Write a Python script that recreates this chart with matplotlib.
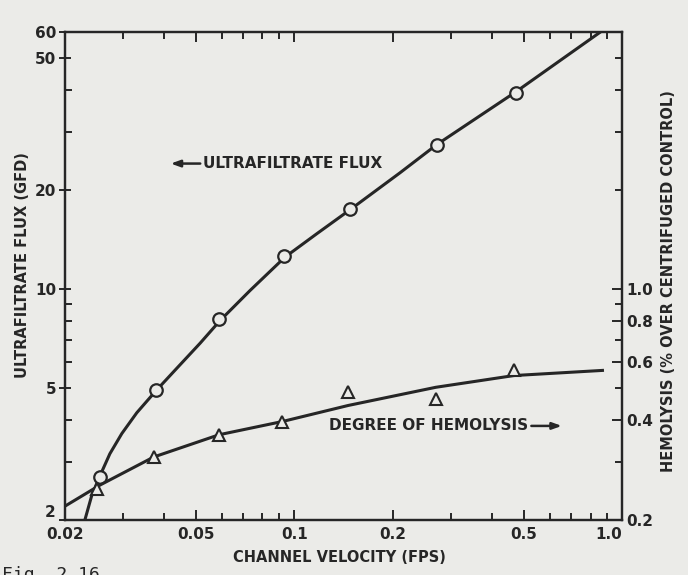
import matplotlib.pyplot as plt
from matplotlib.ticker import FixedLocator, NullFormatter

# --- values ---
# ultrafiltrate flux (GFD), left axis
flux_v = [0.0256, 0.038, 0.059, 0.093, 0.148, 0.272, 0.474]
flux = [2.70, 4.93, 8.09, 12.6, 17.5, 27.4, 39.2]
# hand-drawn smooth curve through the flux points
flux_curve_v = [0.0230, 0.0241, 0.0254, 0.0274, 0.0298, 0.0331, 0.0378, 0.0438,
                0.0516, 0.0594, 0.0733, 0.0937, 0.117, 0.148, 0.210, 0.272,
                0.474, 0.856]
flux_curve = [2.0, 2.36, 2.68, 3.17, 3.65, 4.22, 4.91, 5.75,
              6.85, 8.03, 9.90, 12.5, 14.7, 17.4, 22.5, 27.4,
              39.6, 60.0]

# degree of hemolysis (% over centrifuged control), right axis
hem_v = [0.0251, 0.0373, 0.059, 0.092, 0.146, 0.27, 0.467]
hem = [0.248, 0.31, 0.362, 0.397, 0.489, 0.464, 0.57]
hem_curve_v = [0.02, 0.0256, 0.0373, 0.059, 0.092, 0.146, 0.27, 0.467, 0.87]
hem_curve = [0.22, 0.255, 0.31, 0.362, 0.397, 0.444, 0.504, 0.547, 0.567]

x_ticks = [0.02, 0.05, 0.1, 0.2, 0.5, 1.0]
x_labels = ['0.02', '0.05', '0.1', '0.2', '0.5', '1.0']
x_minor = [0.03, 0.04, 0.06, 0.07, 0.08, 0.09, 0.3, 0.4, 0.6, 0.7, 0.8, 0.9]
yl_ticks = [2, 5, 10, 20, 50, 60]
yl_minor = [3, 4, 6, 7, 8, 9, 30, 40]
yr_ticks = [0.2, 0.4, 0.6, 0.8, 1.0]
yr_minor = [0.3, 0.5, 0.7, 0.9, 2, 3, 4, 5]

ink = '#262626'
paper = '#ebebe8'
plt.rcParams['font.family'] = 'DejaVu Sans'

fig = plt.figure(figsize=(6.88, 5.75), dpi=100, facecolor=paper)
ax = fig.add_axes([0.0945, 0.096, 0.81, 0.848])
ax.set_facecolor(paper)
ax.set_xscale('log')
ax.set_yscale('log')
ax.set_xlim(0.02, 1.0)
ax.set_ylim(2, 60)

ax2 = ax.twinx()
ax2.set_yscale('log')
ax2.set_ylim(0.2, 6)

# flux curve and open circles
ax.plot(flux_curve_v, flux_curve, color=ink, lw=2.2, solid_joinstyle='round')
ax.plot(flux_v, flux, 'o', ms=9, mfc=paper, mec=ink, mew=1.6)

# hemolysis curve and open triangles
ax2.plot(hem_curve_v, hem_curve, color=ink, lw=2.2, solid_joinstyle='round')
ax2.plot(hem_v, hem, '^', ms=8.5, mfc=paper, mec=ink, mew=1.5)

# ticks
ax.xaxis.set_major_locator(FixedLocator(x_ticks))
ax.set_xticklabels(x_labels)
ax.xaxis.set_minor_locator(FixedLocator(x_minor))
ax.xaxis.set_minor_formatter(NullFormatter())
ax.xaxis.get_ticklabels()[-1].set_horizontalalignment('right')

ax.yaxis.set_major_locator(FixedLocator(yl_ticks))
ax.set_yticklabels([str(t) for t in yl_ticks])
ax.yaxis.set_minor_locator(FixedLocator(yl_minor))
ax.yaxis.set_minor_formatter(NullFormatter())
ax.yaxis.get_ticklabels()[0].set_verticalalignment('bottom')

ax2.yaxis.set_major_locator(FixedLocator(yr_ticks))
ax2.set_yticklabels(['0.2', '0.4', '0.6', '0.8', '1.0'])
ax2.yaxis.set_minor_locator(FixedLocator(yr_minor))
ax2.yaxis.set_minor_formatter(NullFormatter())

lab = dict(labelsize=11, labelcolor=ink, color=ink, width=1.4)
ax.tick_params(axis='x', which='major', direction='in', top=True, length=7, pad=5, **lab)
ax.tick_params(axis='x', which='minor', direction='in', top=True, length=5, width=1.4, color=ink)
ax.tick_params(axis='y', which='major', direction='inout', length=9, pad=2, **lab)
ax.tick_params(axis='y', which='minor', direction='in', length=5, width=1.4, color=ink)
ax2.tick_params(axis='y', which='major', direction='in', length=7, pad=3, **lab)
ax2.tick_params(axis='y', which='minor', direction='in', length=5, width=1.4, color=ink)
for t in ax.get_xticklabels() + ax.get_yticklabels() + ax2.get_yticklabels():
    t.set_fontweight('bold')

for a in (ax, ax2):
    for s in a.spines.values():
        s.set_linewidth(1.6)
        s.set_color(ink)

# curve labels with arrows
arrow = dict(arrowstyle='-|>,head_length=0.5,head_width=0.18', color=ink, lw=1.8,
             shrinkA=0, shrinkB=0)
ax.annotate('ULTRAFILTRATE FLUX', xy=(0.042, 24.0), xytext=(0.0527, 24.0),
            ha='left', va='center', fontsize=11, fontweight='bold', color=ink,
            arrowprops=dict(arrow, relpos=(0, 0.5)))
ax.annotate('DEGREE OF HEMOLYSIS', xy=(0.654, 3.85), xytext=(0.128, 3.85),
            ha='left', va='center', fontsize=11, fontweight='bold', color=ink,
            arrowprops=dict(arrow, relpos=(1, 0.5)))

# axis titles
fig.text(0.032, 0.539, 'ULTRAFILTRATE FLUX (GFD)', rotation=90, ha='center', va='center',
         fontsize=10.5, fontweight='bold', color=ink)
fig.text(0.971, 0.511, 'HEMOLYSIS (% OVER CENTRIFUGED CONTROL)', rotation=90,
         ha='center', va='center', fontsize=10.5, fontweight='bold', color=ink)
fig.text(0.494, 0.03, 'CHANNEL VELOCITY (FPS)', ha='center', va='center',
         fontsize=10.5, fontweight='bold', color=ink)

# caption cut off by the scan edge
fig.text(0.003, 0.0, 'Fig. 2.16', family='DejaVu Sans Mono', fontsize=13,
         ha='left', va='center', color=ink)

fig.savefig('out.png', dpi=100, facecolor=paper)
